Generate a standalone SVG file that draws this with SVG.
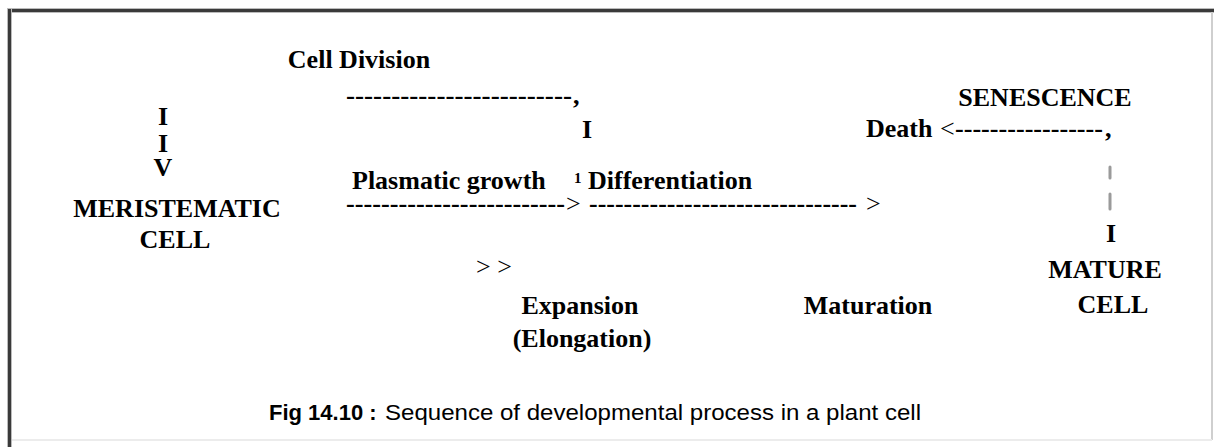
<svg xmlns="http://www.w3.org/2000/svg" width="1214" height="447" viewBox="0 0 1214 447">
<style>
.t{font-family:"Liberation Serif","Times New Roman",serif;font-weight:bold;font-size:26px;fill:#000}
.r{font-family:"Liberation Serif","Times New Roman",serif;font-weight:normal;font-size:26px;fill:#000}
.m{text-anchor:middle}
.sup{font-size:15px}
.cap{font-family:"Liberation Sans",Arial,sans-serif;font-size:22px;fill:#000}
.b{font-weight:bold}
.mark{stroke:#9a9a9a;stroke-width:3;stroke-linecap:round;fill:none}
</style>
<rect width="1214" height="447" fill="#fff"/>
<g id="frame">
<rect x="8" y="8" width="1206" height="5" fill="#bbb"/>
<rect x="8" y="9" width="1206" height="3" fill="#3a3a3a"/>
<rect x="7" y="8" width="5" height="439" fill="#bbb"/>
<rect x="8" y="9" width="3" height="438" fill="#3a3a3a"/>
<rect x="1211" y="12" width="2" height="428" fill="#cfcfcf"/>
<rect x="12" y="439" width="1200" height="2" fill="#ececec"/>
</g>
<g id="connectors">
<text class="t" x="346" y="104" textLength="226" lengthAdjust="spacingAndGlyphs">-------------------------</text>
<text class="t" x="573" y="104">,</text>
<text class="t m" x="587" y="138">I</text>
<text class="t" x="346" y="212" textLength="219" lengthAdjust="spacingAndGlyphs">-------------------------</text>
<text class="r" x="566" y="212">&gt;</text>
<text class="t" x="589" y="212" textLength="268" lengthAdjust="spacingAndGlyphs">-------------------------------</text>
<text class="r" x="866" y="212">&gt;</text>
<text class="r" x="940" y="137">&lt;</text>
<text class="t" x="955" y="137" textLength="148" lengthAdjust="spacingAndGlyphs">-----------------</text>
<text class="t" x="1105" y="137">,</text>
<line class="mark" x1="1110" y1="167" x2="1110" y2="178"/>
<line class="mark" x1="1110" y1="194" x2="1110" y2="209"/>
<text class="t m" x="1111" y="242">I</text>
<text class="t m" x="163" y="125">I</text>
<text class="t m" x="163" y="152">I</text>
<text class="t m" x="163" y="176">V</text>
<text class="r" x="476" y="275">&gt; &gt;</text>
</g>
<g id="cell-division"><text class="t m" x="359" y="68">Cell Division</text></g>
<g id="meristematic-cell"><text class="t m" x="177" y="217">MERISTEMATIC</text><text class="t m" x="175" y="248">CELL</text></g>
<g id="plasmatic-growth"><text class="t" x="352" y="189">Plasmatic growth</text><text class="t sup" x="574" y="183">1</text><text class="t" x="588" y="189">Differentiation</text></g>
<g id="senescence"><text class="t m" x="1045" y="106">SENESCENCE</text></g>
<g id="death"><text class="t" x="866" y="137">Death</text></g>
<g id="expansion"><text class="t m" x="580" y="314">Expansion</text><text class="t m" x="582" y="347">(Elongation)</text></g>
<g id="maturation"><text class="t m" x="868" y="314">Maturation</text></g>
<g id="mature-cell"><text class="t m" x="1105" y="278">MATURE</text><text class="t m" x="1113" y="313">CELL</text></g>
<g id="caption"><text class="cap b" x="269" y="420">Fig 14.10 :</text><text class="cap" x="385" y="420" textLength="536" lengthAdjust="spacingAndGlyphs">Sequence of developmental process in a plant cell</text></g>
</svg>
